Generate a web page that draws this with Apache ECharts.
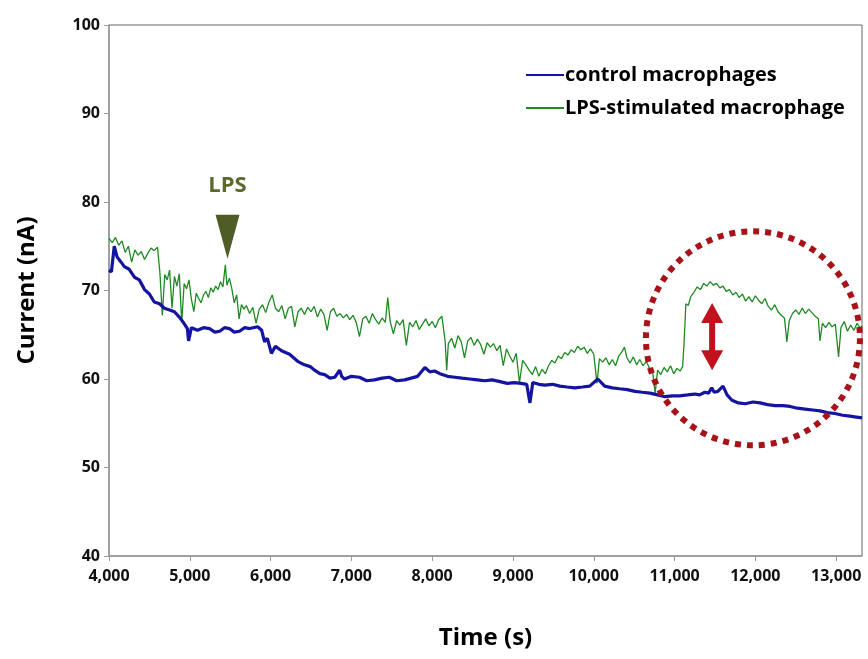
<!DOCTYPE html>
<html>
<head>
<meta charset="utf-8">
<script src="https://cdn.jsdelivr.net/npm/echarts@6/dist/echarts.min.js"></script>
<style>
  html, body { margin: 0; padding: 0; background: #fff; }
  #chart { width: 868px; height: 659px; }
</style>
</head>
<body>
<div id="chart"></div>
<script>
// axis ranges
var xMin = 4000, xMax = 13320, xStep = 1000;
var yMin = 40, yMax = 100, yStep = 10;

var seriesNames = ['control macrophages', 'LPS-stimulated macrophage'];

// control macrophages [time (s), current (nA)]
var controlData = [
	[4000,72.3],[4030,72.1],[4065,75.0],[4100,73.8],[4150,73.2],[4190,72.7],[4250,72.4],[4315,71.5],
	[4375,71.2],[4440,70.1],[4500,69.6],[4560,68.7],[4625,68.5],[4685,68.0],[4750,67.8],[4810,67.6],
	[4870,67.0],[4920,66.4],[4970,65.7],[4985,64.3],[5020,65.8],[5095,65.5],[5170,65.8],[5245,65.7],
	[5310,65.3],[5370,65.4],[5430,65.8],[5490,65.7],[5550,65.3],[5615,65.4],[5680,65.8],[5740,65.7],
	[5840,65.9],[5890,65.5],[5925,64.2],[5960,64.6],[6010,62.9],[6060,63.7],[6135,63.2],[6235,62.8],
	[6335,62.0],[6420,61.6],[6490,61.4],[6545,61.0],[6610,60.6],[6670,60.5],[6735,60.1],[6795,60.2],
	[6855,61.0],[6880,60.3],[6915,60.0],[7000,60.3],[7100,60.2],[7190,59.8],[7285,59.9],[7380,60.1],
	[7470,60.2],[7560,59.8],[7660,59.9],[7740,60.1],[7820,60.3],[7910,61.3],[7970,60.8],[8030,60.9],
	[8095,60.6],[8190,60.3],[8280,60.2],[8370,60.1],[8465,60.0],[8560,59.9],[8650,59.8],[8740,59.9],
	[8840,59.7],[8930,59.5],[9020,59.6],[9100,59.5],[9170,59.4],[9210,57.3],[9245,59.6],[9320,59.4],
	[9395,59.3],[9490,59.4],[9580,59.2],[9670,59.1],[9765,59.0],[9860,59.1],[9950,59.2],[10050,60.0],
	[10135,59.2],[10230,59.0],[10320,58.9],[10415,58.8],[10510,58.6],[10600,58.5],[10695,58.4],
	[10790,58.2],[10880,58.0],[10970,58.1],[11065,58.1],[11160,58.2],[11250,58.3],[11310,58.2],
	[11375,58.5],[11420,58.4],[11460,59.0],[11490,58.5],[11535,58.6],[11600,59.2],[11650,58.2],
	[11710,57.6],[11790,57.3],[11875,57.2],[11970,57.4],[12060,57.3],[12150,57.1],[12245,57.0],
	[12340,57.0],[12430,56.9],[12520,56.7],[12615,56.6],[12710,56.5],[12800,56.4],[12890,56.2],
	[12985,56.1],[13080,55.9],[13170,55.8],[13250,55.7],[13320,55.6]
];

// LPS-stimulated macrophage [time (s), current (nA)]
var lpsData = [
	[4000,75.9],[4040,75.4],[4080,76.0],[4120,75.1],[4160,75.6],[4200,74.3],[4240,75.0],[4280,73.2],
	[4320,74.6],[4360,74.0],[4400,74.4],[4440,73.5],[4480,74.2],[4520,74.8],[4560,74.5],[4600,74.9],
	[4630,72.0],[4660,67.2],[4690,71.8],[4720,71.2],[4750,72.3],[4780,68.0],[4810,71.6],[4840,70.5],
	[4870,71.9],[4900,66.4],[4930,70.8],[4960,70.2],[4990,71.2],[5020,69.0],[5050,67.6],[5080,69.7],
	[5110,69.1],[5140,68.6],[5170,69.5],[5200,69.9],[5230,69.2],[5260,70.3],[5290,69.8],[5320,70.5],
	[5350,70.1],[5380,71.0],[5410,70.4],[5440,72.9],[5460,70.6],[5490,71.4],[5520,70.2],[5550,68.6],
	[5580,69.5],[5610,66.8],[5640,68.4],[5670,67.9],[5700,68.3],[5740,67.4],[5780,68.1],[5820,66.3],
	[5860,67.9],[5900,68.4],[5940,67.5],[5980,68.7],[6020,69.5],[6060,68.0],[6100,67.6],[6140,68.3],
	[6180,66.8],[6220,68.0],[6260,68.2],[6300,65.9],[6340,67.6],[6380,68.0],[6420,67.3],[6460,68.1],
	[6500,67.6],[6540,68.2],[6580,67.0],[6620,67.9],[6660,67.3],[6700,65.5],[6740,67.6],[6780,68.0],
	[6820,67.1],[6860,67.4],[6900,66.9],[6940,67.3],[6980,66.7],[7020,67.2],[7060,66.4],[7100,64.8],
	[7140,66.8],[7180,67.1],[7220,66.3],[7260,67.4],[7300,66.7],[7340,66.2],[7380,66.9],[7420,66.4],
	[7450,69.2],[7480,66.5],[7520,65.1],[7560,66.6],[7600,66.1],[7640,66.7],[7680,63.8],[7720,66.4],
	[7760,65.9],[7800,66.6],[7840,65.6],[7880,66.2],[7920,66.8],[7960,66.0],[8000,66.5],[8040,65.8],
	[8080,66.7],[8120,67.1],[8160,64.3],[8180,61.0],[8200,64.0],[8240,64.6],[8280,63.5],[8320,64.9],
	[8360,64.2],[8400,62.4],[8440,64.3],[8480,64.7],[8520,63.8],[8560,64.5],[8600,63.9],[8640,62.8],
	[8680,64.1],[8720,63.6],[8760,64.0],[8800,63.2],[8840,63.8],[8880,61.5],[8920,63.4],[8960,62.6],
	[9000,61.9],[9040,62.9],[9080,59.6],[9120,62.1],[9160,61.6],[9200,61.0],[9240,60.5],[9280,61.4],
	[9320,60.3],[9360,61.1],[9400,60.6],[9440,61.5],[9480,62.1],[9520,61.8],[9560,62.6],[9600,62.3],
	[9640,63.0],[9680,62.7],[9720,63.3],[9760,63.0],[9800,63.7],[9840,63.3],[9880,63.6],[9920,62.9],
	[9960,63.4],[10000,62.8],[10040,59.5],[10070,62.3],[10110,61.9],[10150,62.4],[10190,61.6],
	[10230,62.2],[10270,61.5],[10310,62.6],[10350,63.1],[10380,63.6],[10410,62.4],[10450,61.8],
	[10490,62.5],[10530,61.6],[10570,62.2],[10610,61.5],[10650,62.0],[10690,61.2],[10730,60.7],
	[10760,58.4],[10790,61.0],[10830,60.5],[10870,61.3],[10910,60.8],[10950,61.5],[10990,60.6],
	[11030,61.2],[11070,60.9],[11100,61.4],[11120,64.5],[11140,68.5],[11170,68.3],[11200,69.3],
	[11240,69.8],[11280,70.4],[11320,70.1],[11360,70.8],[11400,70.5],[11440,71.0],[11480,70.6],
	[11520,70.8],[11560,70.3],[11600,70.5],[11640,69.9],[11680,70.1],[11720,69.5],[11760,69.8],
	[11800,69.2],[11840,69.6],[11880,68.8],[11920,69.3],[11960,68.7],[12000,69.4],[12040,68.9],
	[12080,68.5],[12120,69.1],[12160,68.2],[12200,67.8],[12240,68.4],[12280,67.6],[12320,67.2],
	[12360,66.9],[12390,64.2],[12420,66.6],[12460,67.4],[12500,67.8],[12540,67.3],[12580,68.0],
	[12620,67.4],[12660,67.9],[12700,67.5],[12740,67.1],[12780,66.8],[12800,64.3],[12830,66.3],
	[12870,65.8],[12910,66.4],[12950,65.9],[12990,66.2],[13030,62.5],[13060,65.8],[13100,66.5],
	[13140,65.4],[13180,66.1],[13220,65.5],[13260,66.3],[13300,65.7],[13320,66.0]
];

// annotation anchors (data coordinates)
var lpsMark = [5467, 73.6];
var circleCenter = [11970, 64.6];
var arrowTop = [11465, 68.6];
var arrowBottom = [11465, 61.0];

var font = '"Open Sans", Lato, sans-serif';

var chart = echarts.init(document.getElementById('chart'));

var option = {
	animation: false,
	backgroundColor: '#fff',
	grid: {
		left: 109, right: 6, top: 25, bottom: 103,
		show: true, borderColor: '#666', borderWidth: 1, backgroundColor: 'transparent'
	},
	legend: {
		data: seriesNames,
		orient: 'vertical',
		left: 520, top: 60,
		itemWidth: 38, itemHeight: 14, itemGap: 13,
		itemStyle: { opacity: 0 },
		textStyle: { fontFamily: font, fontWeight: 'bold', fontSize: 20, color: '#000', padding: [0, 0, 0, -4] }
	},
	xAxis: {
		type: 'value',
		min: xMin, max: xMax, interval: xStep,
		name: 'Time (s)', nameLocation: 'middle', nameGap: 70,
		nameTextStyle: { fontFamily: font, fontWeight: 'bold', fontSize: 24, color: '#000' },
		axisLine: { lineStyle: { color: '#9a9a9a', width: 1.5 } },
		axisTick: { show: true, length: 5, lineStyle: { color: '#9a9a9a' } },
		axisLabel: {
			fontFamily: font, fontWeight: 'bold', fontSize: 16, color: '#111', margin: 12,
			showMaxLabel: false,
			formatter: function (v) { return v.toLocaleString('en-US'); }
		},
		splitLine: { show: false }
	},
	yAxis: {
		type: 'value',
		min: yMin, max: yMax, interval: yStep,
		name: 'Current (nA)', nameLocation: 'middle', nameGap: 70, nameRotate: 90,
		nameTextStyle: { fontFamily: font, fontWeight: 'bold', fontSize: 24, color: '#000' },
		axisLine: { show: true, lineStyle: { color: '#9a9a9a', width: 1.5 } },
		axisTick: { show: true, length: 5, lineStyle: { color: '#9a9a9a' } },
		axisLabel: { fontFamily: font, fontWeight: 'bold', fontSize: 16, color: '#111', margin: 9 },
		splitLine: { show: false }
	},
	series: [
		{
			name: seriesNames[0],
			type: 'line',
			data: controlData,
			symbol: 'none',
			lineStyle: { color: '#1414a0', width: 3.2 },
			itemStyle: { color: '#1414a0' },
			z: 3
		},
		{
			name: seriesNames[1],
			type: 'line',
			data: lpsData,
			symbol: 'none',
			lineStyle: { color: '#1f8a22', width: 1.3 },
			itemStyle: { color: '#1f8a22' },
			z: 2
		}
	]
};

chart.setOption(option);

// annotations placed from data coordinates
function px(p) { return chart.convertToPixel({ gridIndex: 0 }, p); }

var tip = px(lpsMark);
var cc = px(circleCenter);
var at = px(arrowTop);
var ab = px(arrowBottom);
var hw = 11, hh = 20, sw = 3;

chart.setOption({
	graphic: [
		{
			type: 'text',
			x: tip[0], y: tip[1] - 84,
			style: { text: 'LPS', fontFamily: font, fontWeight: 'bold', fontSize: 22, fill: '#5b6a2c', align: 'center' },
			z: 10
		},
		{
			type: 'polygon',
			shape: { points: [[tip[0] - 12, tip[1] - 44], [tip[0] + 12, tip[1] - 44], [tip[0], tip[1]]] },
			style: { fill: '#4e5c25' },
			z: 10
		},
		{
			type: 'circle',
			shape: { cx: cc[0], cy: cc[1], r: 107 },
			style: { fill: 'none', stroke: '#a8131a', lineWidth: 6, lineDash: [6, 6] },
			z: 10
		},
		{
			type: 'polygon',
			shape: {
				points: [
					[at[0], at[1]], [at[0] + hw, at[1] + hh], [at[0] + sw, at[1] + hh],
					[ab[0] + sw, ab[1] - hh], [ab[0] + hw, ab[1] - hh], [ab[0], ab[1]],
					[ab[0] - hw, ab[1] - hh], [ab[0] - sw, ab[1] - hh],
					[at[0] - sw, at[1] + hh], [at[0] - hw, at[1] + hh]
				]
			},
			style: { fill: '#c0121c' },
			z: 10
		}
	]
});
</script>
</body>
</html>
